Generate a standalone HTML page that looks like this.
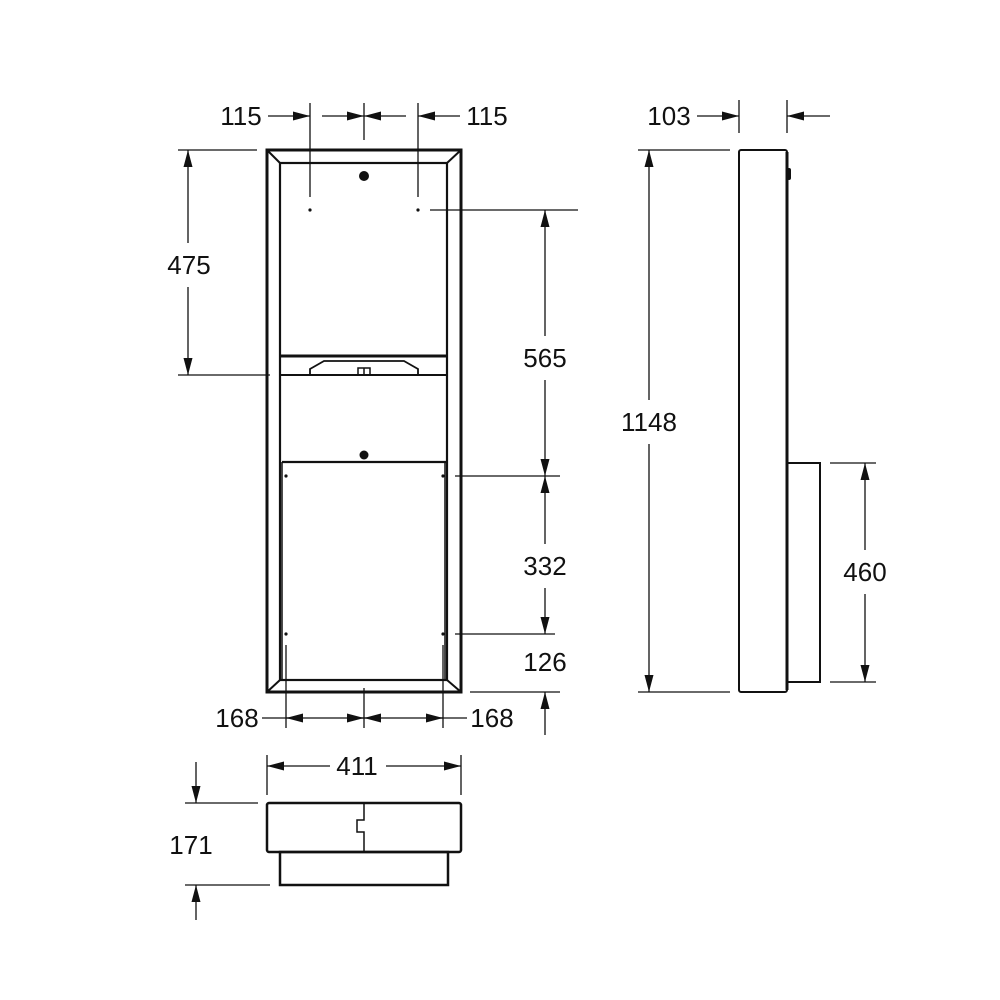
<!DOCTYPE html>
<html><head><meta charset="utf-8"><style>
html,body{margin:0;padding:0;background:#fff}
svg{display:block}
text{font-family:"Liberation Sans",Arial,sans-serif;font-size:26px;fill:#111;text-anchor:middle;dominant-baseline:central}
</style></head><body>
<svg width="1000" height="1000" viewBox="0 0 1000 1000" xmlns="http://www.w3.org/2000/svg">
<defs>
<marker id="a" markerWidth="18" markerHeight="10" refX="17" refY="5" orient="auto-start-reverse" markerUnits="userSpaceOnUse">
<path d="M0,0.5 L17,5 L0,9.5 Z" fill="#111"/>
</marker>
</defs>
<g stroke="#111" fill="none" stroke-width="1.3">
<rect x="267" y="150" width="194" height="542" stroke-width="3"/>
<rect x="280" y="163" width="167" height="517" stroke-width="2.2"/>
<path d="M267,150 L280,163 M461,150 L447,163 M267,692 L280,680 M461,692 L447,680" stroke-width="2"/>
<line x1="280" y1="356" x2="447" y2="356" stroke-width="3"/>
<line x1="280" y1="375" x2="447" y2="375" stroke-width="2"/>
<path d="M310,375 L310,369 L324,361 L404,361 L418,369 L418,375" stroke-width="1.8"/>
<path d="M358,375 V368 H370 V375 M364,368 V375" stroke-width="1.5"/>
<line x1="282" y1="462" x2="447" y2="462" stroke-width="2.2"/>
<line x1="282" y1="462" x2="282" y2="680" stroke-width="1.5"/>
<line x1="445" y1="462" x2="445" y2="680" stroke-width="1.5"/>
<line x1="310" y1="103" x2="310" y2="197"/>
<line x1="418" y1="103" x2="418" y2="197"/>
<line x1="364" y1="103" x2="364" y2="140"/>
<line x1="268" y1="116" x2="310" y2="116" marker-end="url(#a)"/>
<line x1="322" y1="116" x2="364" y2="116" marker-end="url(#a)"/>
<line x1="406" y1="116" x2="364" y2="116" marker-end="url(#a)"/>
<line x1="460" y1="116" x2="418" y2="116" marker-end="url(#a)"/>
<line x1="178" y1="150" x2="257" y2="150"/>
<line x1="178" y1="375" x2="270" y2="375"/>
<line x1="188" y1="150" x2="188" y2="243" marker-start="url(#a)"/>
<line x1="188" y1="287" x2="188" y2="375" marker-end="url(#a)"/>
<line x1="430" y1="210" x2="578" y2="210"/>
<line x1="455" y1="476" x2="560" y2="476"/>
<line x1="455" y1="634" x2="555" y2="634"/>
<line x1="470" y1="692" x2="560" y2="692"/>
<line x1="545" y1="210" x2="545" y2="336" marker-start="url(#a)"/>
<line x1="545" y1="380" x2="545" y2="476" marker-end="url(#a)"/>
<line x1="545" y1="476" x2="545" y2="544" marker-start="url(#a)"/>
<line x1="545" y1="588" x2="545" y2="634" marker-end="url(#a)"/>
<line x1="545" y1="735" x2="545" y2="692" marker-end="url(#a)"/>
<line x1="286" y1="645" x2="286" y2="728"/>
<line x1="443" y1="645" x2="443" y2="728"/>
<line x1="364" y1="688" x2="364" y2="728"/>
<line x1="262" y1="718" x2="467" y2="718"/>
<line x1="302" y1="718" x2="286" y2="718" marker-end="url(#a)"/>
<line x1="348" y1="718" x2="364" y2="718" marker-end="url(#a)"/>
<line x1="380" y1="718" x2="364" y2="718" marker-end="url(#a)"/>
<line x1="427" y1="718" x2="443" y2="718" marker-end="url(#a)"/>
<line x1="267" y1="755" x2="267" y2="795"/>
<line x1="461" y1="755" x2="461" y2="795"/>
<line x1="267" y1="766" x2="330" y2="766" marker-start="url(#a)"/>
<line x1="386" y1="766" x2="461" y2="766" marker-end="url(#a)"/>
<rect x="267" y="803" width="194" height="49" rx="2" stroke-width="2.5"/>
<rect x="280" y="852" width="168" height="33" stroke-width="2.5"/>
<path d="M364,803 V820 H357 V832 H364 V852" stroke-width="1.5"/>
<line x1="185" y1="803" x2="258" y2="803"/>
<line x1="185" y1="885" x2="270" y2="885"/>
<line x1="196" y1="762" x2="196" y2="803" marker-end="url(#a)"/>
<line x1="196" y1="920" x2="196" y2="885" marker-end="url(#a)"/>
<rect x="739" y="150" width="48" height="542" rx="2" stroke-width="2"/>
<line x1="787" y1="152" x2="787" y2="690" stroke-width="3"/>
<rect x="787" y="463" width="33" height="219" stroke-width="2"/>
<line x1="739" y1="100" x2="739" y2="133"/>
<line x1="787" y1="100" x2="787" y2="133"/>
<line x1="697" y1="116" x2="739" y2="116" marker-end="url(#a)"/>
<line x1="830" y1="116" x2="787" y2="116" marker-end="url(#a)"/>
<line x1="638" y1="150" x2="730" y2="150"/>
<line x1="638" y1="692" x2="730" y2="692"/>
<line x1="649" y1="150" x2="649" y2="400" marker-start="url(#a)"/>
<line x1="649" y1="444" x2="649" y2="692" marker-end="url(#a)"/>
<line x1="830" y1="463" x2="876" y2="463"/>
<line x1="830" y1="682" x2="876" y2="682"/>
<line x1="865" y1="463" x2="865" y2="550" marker-start="url(#a)"/>
<line x1="865" y1="594" x2="865" y2="682" marker-end="url(#a)"/>
</g>
<g fill="#111">
<circle cx="364" cy="176" r="5"/>
<circle cx="364" cy="455" r="4.5"/>
<circle cx="310" cy="210" r="1.6"/>
<circle cx="418" cy="210" r="1.6"/>
<circle cx="286" cy="476" r="1.6"/>
<circle cx="443" cy="476" r="1.6"/>
<circle cx="286" cy="634" r="1.6"/>
<circle cx="443" cy="634" r="1.6"/>
<rect x="787" y="168" width="4" height="12" rx="2"/>
</g>
<text x="241" y="116">115</text>
<text x="487" y="116">115</text>
<text x="189" y="265">475</text>
<text x="545" y="358">565</text>
<text x="545" y="566">332</text>
<text x="545" y="662">126</text>
<text x="237" y="718">168</text>
<text x="492" y="718">168</text>
<text x="357" y="766">411</text>
<text x="191" y="845">171</text>
<text x="669" y="116">103</text>
<text x="649" y="422">1148</text>
<text x="865" y="572">460</text>
</svg>
</body></html>
